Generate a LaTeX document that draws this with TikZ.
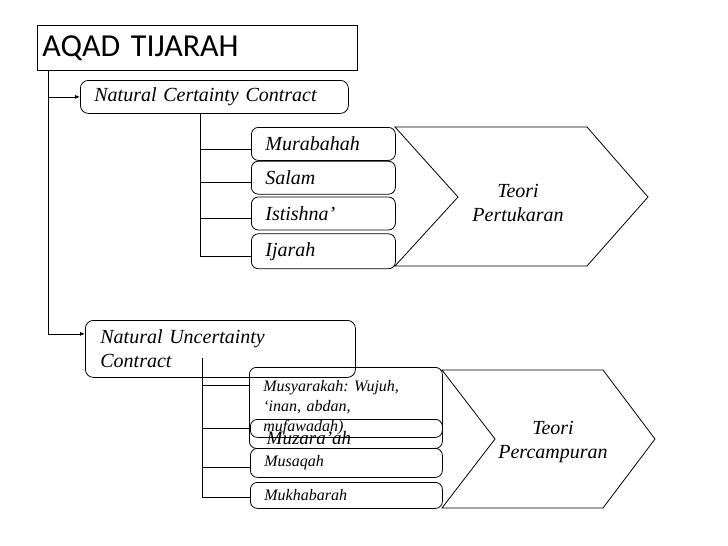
\documentclass[tikz,border=0pt]{standalone}
\usepackage{fontspec}
\setmainfont{Liberation Serif}
\newfontfamily\titlefont{Carlito}
\usetikzlibrary{arrows.meta,positioning}
\frenchspacing

\begin{document}
\begin{tikzpicture}[
  x=1pt, y=-1pt, line width=0.8pt,
  title/.style={draw, anchor=north west, minimum height=45pt, text width=310pt, inner xsep=5pt, align=left, font=\titlefont\fontsize{32}{36}\selectfont},
  group/.style={draw, rounded corners=8pt, anchor=north west, align=left, inner ysep=0pt, font=\itshape\fontsize{20}{24}\selectfont},
  item/.style={draw, rounded corners=7pt, anchor=north west, text width=116pt, inner xsep=14pt, inner ysep=0pt, align=left, font=\itshape\fontsize{20}{24}\selectfont},
  small/.style={font=\itshape\fontsize{16}{20}\selectfont},
  theory/.style={align=center, font=\itshape\fontsize{20}{24}\selectfont},
  arr/.style={-{Latex[length=5pt,width=4pt]}}
]
\useasboundingbox (0,0) rectangle (728,546);

\node[title] (aqad) at (37,25) {AQAD TIJARAH};
\node[group, text width=240pt, inner xsep=14pt, minimum height=33pt] (ncc) at (80,80) {Natural Certainty Contract};
\node[group, text width=240pt, inner xsep=15pt, minimum height=57pt] (nuc) at (85,320) {Natural Uncertainty\\Contract};

% exchange contracts
\node[item, minimum height=33pt] (mura) at (251,127) {Murabahah};
\node[item, minimum height=33pt, below=0pt of mura] (salam) {Salam};
\node[item, minimum height=33pt, below=2pt of salam] (istis) {Istishna’};
\node[item, minimum height=35pt, below=3pt of istis] (ijar) {Ijarah};
\draw (395,127) -- (587,127) -- (648,197) -- (587,266) -- (395,266) -- (458,197) -- cycle;
\node[theory] (tp) at (518,203) {Teori\\Pertukaran};

% mixing contracts
\node[item, small, text width=165pt, minimum height=81pt] (musy) at (249,367) {Musyarakah: Wujuh,\\‘inan, abdan,\\mufawadah)};
\node[item, text width=164pt, minimum height=18pt] (muz) at (250,419) {};
\node[anchor=base west, font=\itshape\fontsize{19}{22}\selectfont] (muzt) at (263,444) {Muzara’ah};
\node[item, small, text width=164pt, minimum height=29pt] (musa) at (250,448) {Musaqah};
\node[item, small, text width=164pt, minimum height=26pt] (mukh) at (250,482) {Mukhabarah};
\draw (442,370) -- (603,370) -- (655,439) -- (603,508) -- (442,508) -- (495,439) -- cycle;
\node[theory] (tc) at (553,442) {Teori\\Percampuran};

\path (aqad.south west) ++(11,0) coordinate (trunk);
\draw[arr] (trunk) |- (ncc.west);
\draw[arr] (trunk) |- ([yshift=15pt]nuc.west);

\path (ncc.south west) ++(120,0) coordinate (ncctrunk);
\draw (ncctrunk) |- ([yshift=-5pt]mura.west);
\draw (ncctrunk) |- ([yshift=-5pt]salam.west);
\draw (ncctrunk) |- ([yshift=-5pt]istis.west);
\draw (ncctrunk) |- ([yshift=-5pt]ijar.west);

\path (nuc.south west) ++(117,-20) coordinate (nuctrunk);
\draw (nuctrunk) |- ([yshift=-18pt]musy.north west);
\draw (nuctrunk) |- (muz.west);
\draw (nuctrunk) |- ([yshift=-4pt]musa.west);
\draw (nuctrunk) |- ([yshift=-2pt]mukh.west);
\end{tikzpicture}
\end{document}
